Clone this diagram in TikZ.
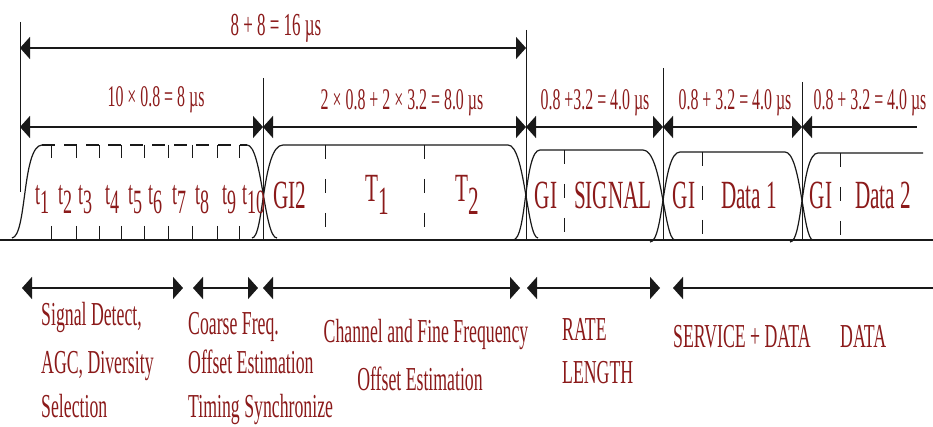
\documentclass[tikz,border=0pt]{standalone}
\usepackage{fontspec}
\setmainfont{Liberation Serif}[FakeStretch=0.53]
\usetikzlibrary{arrows.meta}
\definecolor{dark_red}{RGB}{139,26,26}
\definecolor{line_black}{RGB}{25,25,25}
\newcommand{\tidx}[1]{t\raisebox{-9pt}{#1}}
\newcommand{\Tidx}[1]{T\raisebox{-13pt}{#1}}

\begin{document}
\begin{tikzpicture}[x=1pt,y=-1pt,
	dimarrow/.style={line_black,line width=1.5pt,{Triangle[length=10pt,width=22pt]}-{Triangle[length=10pt,width=22pt]}},
	halfarrow/.style={line_black,line width=1.5pt,{Triangle[length=10pt,width=22pt]}-},
	limline/.style={line_black,line width=0.8pt},
	wave/.style={line_black,line width=1.2pt},
	sepline/.style={line_black,line width=0.8pt,dash pattern=on 14pt off 20pt},
	lbl/.style={text=dark_red,inner sep=0pt},
	toplbl/.style={lbl,anchor=base,font=\fontsize{30}{36}\selectfont},
	notelbl/.style={lbl,anchor=base west,font=\fontsize{33.5}{40}\selectfont},
	slotlbl/.style={lbl,anchor=base,font=\fontsize{40}{48}\selectfont},
	tlbl/.style={lbl,anchor=base west,font=\fontsize{34}{40}\selectfont}]
	\useasboundingbox (0,0) rectangle (933,427);

	% boundary lines
	\foreach \n/\x/\ya/\yb in {0/20/22/192,1/263/78/240,2/526/30/240,3/663/68/240,4/802/82/240}{
		\coordinate (b\n t) at (\x,\ya);
		\coordinate (b\n b) at (\x,\yb);
		\draw[limline] (b\n t) -- (b\n b);
	}

	% durations
	\coordinate (r0) at (20,48);
	\coordinate (r1) at (526,48);
	\draw[dimarrow] (r0) -- (r1);
	\node[toplbl,font=\fontsize{32}{36}\selectfont] (total) at (276,36) {8 + 8 = 16 µs};

	\foreach \n/\x in {0/20,1/263,2/526,3/663,4/802,5/917}
		\coordinate (m\n) at (\x,127);
	\foreach \a/\b in {0/1,1/2,2/3,3/4}
		\draw[dimarrow] (m\a) -- (m\b);
	\draw[halfarrow] (m4) -- (m5);

	\node[toplbl] (short) at (156,107) {10 × 0.8 = 8 µs};
	\node[toplbl] (long) at (402,110) {2 × 0.8 + 2 × 3.2 = 8.0 µs};
	\node[toplbl] (sig) at (595,110) {0.8 +3.2 = 4.0 µs};
	\node[toplbl] (dat1) at (735,110) {0.8 + 3.2 = 4.0 µs};
	\node[toplbl] (dat2) at (870,110) {0.8 + 3.2 = 4.0 µs};

	% waveform
	\coordinate (w0) at (0,240);
	\coordinate (w1) at (933,240);
	\draw[line_black,line width=1.5pt] (w0) -- (w1);

	\draw[wave] (12,238) .. controls (27,236) and (22,146) .. (42,145);
	\draw[wave,dash pattern=on 13pt off 9pt] (42,145) -- (247,145);
	\draw[wave] (247,145) .. controls (262,145) and (264,238) .. (277,238);
	\draw[wave] (252,238) .. controls (264,238) and (262,145) .. (283,145) -- (508,145)
		.. controls (525,145) and (527,238) .. (538,238);
	\draw[wave] (513,240) .. controls (527,240) and (524,150) .. (540,150) -- (643,150)
		.. controls (662,150) and (664,240) .. (675,240);
	\draw[wave] (650,242) .. controls (664,242) and (662,152) .. (680,152) -- (785,152)
		.. controls (801,152) and (803,240) .. (813,240);
	\draw[wave] (790,242) .. controls (803,242) and (801,153) .. (818,153) -- (923,153);

	\foreach \x in {51,76,99,121,144,168,192,217,239}{
		\draw[limline] (\x,145) -- (\x,158);
		\draw[limline] (\x,226) -- (\x,240);
	}
	\foreach \x/\y in {325/145,424/145,564/150,702/152,840/153}
		\draw[sepline] (\x,\y) -- (\x,240);

	\foreach \n/\x in {1/35,2/58,3/78,4/105,5/128,6/148,7/172,8/195,9/222,10/242}
		\node[tlbl] (t\n) at (\x,205) {\tidx{\n}};

	\node[slotlbl] (gi2) at (290,209) {GI2};
	\node[slotlbl] (tr1) at (377,202) {\Tidx{1}};
	\node[slotlbl] (tr2) at (467,202) {\Tidx{2}};
	\node[slotlbl] (gi_s) at (546,209) {GI};
	\node[slotlbl] (signal) at (613,209) {SIGNAL};
	\node[slotlbl] (gi_d1) at (684,209) {GI};
	\node[slotlbl] (data1) at (749,209) {Data 1};
	\node[slotlbl] (gi_d2) at (821,209) {GI};
	\node[slotlbl] (data2) at (883,209) {Data 2};

	% tasks
	\foreach \n/\xa/\xb in {0/22/183,1/193/258,2/263/520,3/527/660}{
		\coordinate (pa\n) at (\xa,288);
		\coordinate (pb\n) at (\xb,288);
		\draw[dimarrow] (pa\n) -- (pb\n);
	}
	\coordinate (pa4) at (673,288);
	\coordinate (pb4) at (933,288);
	\draw[halfarrow] (pa4) -- (pb4);

	\node[notelbl] (det1) at (41,325) {Signal Detect,};
	\node[notelbl] (det2) at (41,373) {AGC, Diversity};
	\node[notelbl] (det3) at (41,417) {Selection};
	\node[notelbl] (crs1) at (188,334) {Coarse Freq.};
	\node[notelbl] (crs2) at (188,373) {Offset Estimation};
	\node[notelbl] (crs3) at (188,417) {Timing Synchronize};
	\node[toplbl,font=\fontsize{33.5}{40}\selectfont] (chn1) at (426,342) {Channel and Fine Frequency};
	\node[toplbl,font=\fontsize{33.5}{40}\selectfont] (chn2) at (420,390) {Offset Estimation};
	\node[notelbl] (rate) at (562,340) {RATE};
	\node[notelbl] (len) at (562,383) {LENGTH};
	\node[notelbl] (serv) at (673,347) {SERVICE + DATA};
	\node[notelbl] (data) at (840,347) {DATA};
\end{tikzpicture}
\end{document}
